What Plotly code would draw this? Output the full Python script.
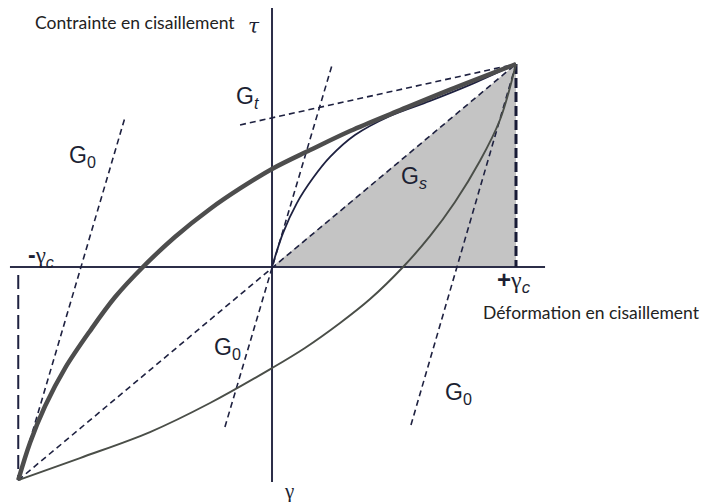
import plotly.graph_objects as go

# Cyclic shear: strain gamma (in units of gamma_c), stress tau (in units of tau_c)
GAMMA_C, TAU_C = 1.0, 1.0              # upper reversal point (+gamma_c, tau_c)
GAMMA_MIN, TAU_MIN = -1.04, -1.05      # lower reversal point (-gamma_c, -tau_c)

# Loading branch (thick), from the lower reversal point up to the upper one
load_gamma = [-1.04, -0.992, -0.930, -0.848, -0.746, -0.643, -0.529, -0.398, -0.254,
              -0.131, 0.0, 0.156, 0.320, 0.525, 0.730, 1.0]
load_tau = [-1.05, -0.867, -0.685, -0.498, -0.315, -0.148, 0.0, 0.148, 0.286,
            0.387, 0.483, 0.576, 0.670, 0.773, 0.874, 1.0]

# Unloading branch (thin grey), from the upper reversal point down to the lower one
unload_gamma = [1.0, 0.934, 0.852, 0.750, 0.648, 0.537, 0.402, 0.279, 0.135, 0.0,
                -0.254, -0.500, -0.787, -1.04]
unload_tau = [1.0, 0.724, 0.522, 0.320, 0.153, 0.0, -0.158, -0.276, -0.399, -0.498,
              -0.670, -0.813, -0.941, -1.05]

# Backbone (first loading) curve
bb_gamma = [0.0, 0.045, 0.102, 0.168, 0.238, 0.340, 0.484, 0.648, 0.811, 1.0]
bb_tau = [0.0, 0.167, 0.315, 0.438, 0.542, 0.650, 0.744, 0.818, 0.897, 1.0]

# Modulus construction lines: (gamma0, tau0, gamma1, tau1)
g0_origin = (-0.193, -0.788, 0.246, 0.995)
g0_left = (GAMMA_MIN, TAU_MIN, -0.602, 0.739)
g0_right = (GAMMA_C, TAU_C, 0.566, -0.793)
gt_line = (-0.131, 0.700, GAMMA_C, TAU_C)
gs_line = (GAMMA_MIN, TAU_MIN, GAMMA_C, TAU_C)

# Axis extents
x_axis_span = (-1.074, 1.119)
y_axis_span = (-1.059, 1.276)

W, H = 703, 502
X_RANGE = (-1.1148, 1.7664)
Y_RANGE = (-1.1576, 1.3153)

NAVY = "#1e2140"
AXIS = "#2c2e48"
TXT = "#1c1f33"

fig = go.Figure()

# Shaded triangle under the secant modulus
fig.add_trace(go.Scatter(x=[0, GAMMA_C, GAMMA_C, 0], y=[0, TAU_C, 0, 0],
                         fill="toself", fillcolor="#c4c4c4", mode="none",
                         hoverinfo="skip"))

# Axes
fig.add_trace(go.Scatter(x=list(x_axis_span), y=[0, 0], mode="lines",
                         line=dict(color=AXIS, width=2)))
fig.add_trace(go.Scatter(x=[0, 0], y=list(y_axis_span), mode="lines",
                         line=dict(color=AXIS, width=2)))


def dashed(seg, width=1.6, dash="6px,4px", color=NAVY):
    fig.add_trace(go.Scatter(x=[seg[0], seg[2]], y=[seg[1], seg[3]], mode="lines",
                             line=dict(color=color, width=width, dash=dash)))


for seg in (g0_origin, g0_left, g0_right, gt_line, gs_line):
    dashed(seg)

# Vertical markers at -gamma_c and +gamma_c
dashed((GAMMA_MIN, -0.039, GAMMA_MIN, TAU_MIN), width=2, dash="14px,6px")
dashed((GAMMA_C, TAU_C, GAMMA_C, 0), width=3, dash="10px,4px", color="#181b36")

# Hysteresis loop and backbone
fig.add_trace(go.Scatter(x=unload_gamma, y=unload_tau, mode="lines",
                         line=dict(color="#4a4e48", width=1.9, shape="spline", smoothing=1.0)))
fig.add_trace(go.Scatter(x=bb_gamma, y=bb_tau, mode="lines",
                         line=dict(color=NAVY, width=1.8, shape="spline", smoothing=1.0)))
fig.add_trace(go.Scatter(x=load_gamma, y=load_tau, mode="lines",
                         line=dict(color="#4d4d4d", width=4.5, shape="spline", smoothing=1.0)))


def px(x):
    return x / W


def py(y):
    return 1 - y / H


SERIF = "font-family:'Liberation Serif'"
ann = []
ann.append(dict(x=px(33), y=py(23), text="Contrainte en cisaillement", xanchor="left",
                yanchor="middle", font=dict(family="Lato", size=17.5, color="#222222")))
ann.append(dict(x=px(254), y=py(26), text="<i>τ</i>", xanchor="center", yanchor="middle",
                font=dict(family="DejaVu Serif", size=20, color=TXT)))
ann.append(dict(x=px(481), y=py(312), text="Déformation en cisaillement", xanchor="left",
                yanchor="middle", font=dict(family="Lato", size=17.5, color="#222222")))
ann.append(dict(x=px(289), y=py(491), text="γ", xanchor="center", yanchor="middle",
                font=dict(family="Liberation Serif", size=21, color=TXT)))
ann.append(dict(x=px(41), y=py(256),
                text=f"<b>-</b><span style=\"{SERIF}\">γ</span><sub><i>c</i></sub>",
                xanchor="center", yanchor="middle",
                font=dict(family="Liberation Sans", size=23, color=TXT)))
ann.append(dict(x=px(514), y=py(281),
                text=f"<b>+</b><span style=\"{SERIF}\">γ</span><sub><i>c</i></sub>",
                xanchor="center", yanchor="middle",
                font=dict(family="Liberation Sans", size=24, color=TXT)))
ann.append(dict(x=px(248), y=py(97), text="G<sub><i>t</i></sub>", xanchor="center",
                yanchor="middle", font=dict(family="Liberation Sans", size=23, color=TXT)))
ann.append(dict(x=px(82), y=py(157), text="G<sub>0</sub>", xanchor="center",
                yanchor="middle", font=dict(family="Liberation Sans", size=23, color=TXT)))
ann.append(dict(x=px(227), y=py(348), text="G<sub>0</sub>", xanchor="center",
                yanchor="middle", font=dict(family="Liberation Sans", size=23, color=TXT)))
ann.append(dict(x=px(458), y=py(393), text="G<sub>0</sub>", xanchor="center",
                yanchor="middle", font=dict(family="Liberation Sans", size=23, color=TXT)))
ann.append(dict(x=px(414), y=py(177), text="G<sub><i>s</i></sub>", xanchor="center",
                yanchor="middle", font=dict(family="Liberation Sans", size=23, color=TXT)))

for a in ann:
    a.update(xref="paper", yref="paper", showarrow=False)

fig.update_layout(
    width=W, height=H, autosize=False,
    margin=dict(l=0, r=0, t=0, b=0, pad=0),
    paper_bgcolor="white", plot_bgcolor="white",
    showlegend=False,
    xaxis=dict(range=list(X_RANGE), visible=False, fixedrange=True),
    yaxis=dict(range=list(Y_RANGE), visible=False, fixedrange=True),
    annotations=ann,
)

fig.write_html("out.html", config={"displayModeBar": False})
